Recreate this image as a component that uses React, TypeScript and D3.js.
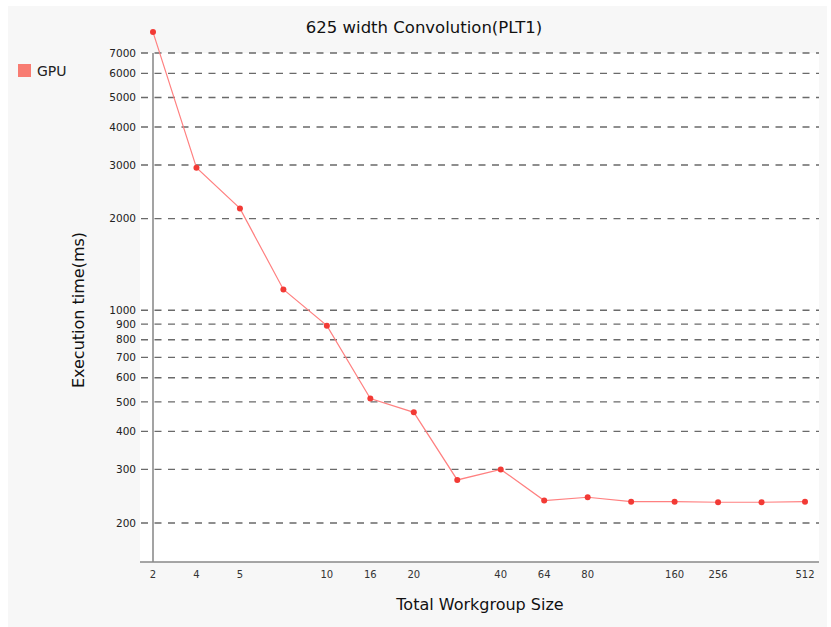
import React from "react";
import * as d3 from "d3";

const xLabels = ["2", "4", "5", "", "10", "16", "20", "", "40", "64", "80", "", "160", "256", "", "512"];
const gpuTimes = [8200, 2940, 2160, 1170, 890, 513, 462, 277, 300, 237, 243, 235, 235, 234, 234, 235];
const yTicks = [200, 300, 400, 500, 600, 700, 800, 900, 1000, 2000, 3000, 4000, 5000, 6000, 7000];
const seriesName = "GPU";
const title = "625 width Convolution(PLT1)";
const xTitle = "Total Workgroup Size";
const yTitle = "Execution time(ms)";

export default function App() {
  const W = 831, H = 627;
  const plot = { left: 140, right: 819, top: 53, bottom: 562 };
  const x = d3.scalePoint<number>().domain(d3.range(xLabels.length)).range([153, 805]).padding(0);
  const y = d3.scaleLog().domain([200, 7000]).range([523, 53]);
  const line = d3.line<number>().x((_, i) => x(i)!).y((d) => y(d));
  const font = "DejaVu Sans, sans-serif";
  return (
    <svg width={W} height={H} style={{ position: "absolute", left: 0, top: 0 }} fontFamily={font}>
      <rect x={8} y={6} width={819} height={621} fill="#f7f7f7" />
      <rect x={plot.left} y={plot.top} width={plot.right - plot.left} height={plot.bottom - plot.top} fill="#ffffff" />
      <text x={424} y={33} textAnchor="middle" fontSize={16.5} fill="#111">{title}</text>
      {yTicks.map((t) => (
        <g key={t}>
          <line x1={141} x2={plot.right} y1={y(t)} y2={y(t)} stroke="#6a6a6a" strokeWidth={1.4} strokeDasharray="7,6.5" />
          <text x={136} y={y(t)} dy="0.35em" textAnchor="end" fontSize={10.5} fill="#222">{t}</text>
        </g>
      ))}
      <line x1={153} x2={153} y1={plot.top} y2={plot.bottom} stroke="#666" strokeWidth={1.2} />
      <line x1={plot.left} x2={plot.right} y1={plot.bottom} y2={plot.bottom} stroke="#888" strokeWidth={1.5} />
      {xLabels.map((l, i) => (
        <text key={i} x={x(i)!} y={578} textAnchor="middle" fontSize={10} fill="#333">{l}</text>
      ))}
      <path d={line(gpuTimes) || ""} fill="none" stroke="#ff8080" strokeWidth={1.2} />
      {gpuTimes.map((v, i) => (
        <circle key={i} cx={x(i)!} cy={y(v)} r={3} fill="#f23a35" />
      ))}
      <text x={480} y={610} textAnchor="middle" fontSize={16} fill="#111">{xTitle}</text>
      <text transform={`translate(84,${310}) rotate(-90)`} textAnchor="middle" fontSize={16} fill="#111">{yTitle}</text>
      <rect x={18} y={64} width={13} height={13} fill="#f87c72" />
      <text x={37} y={71} dy="0.35em" fontSize={14} fill="#222">{seriesName}</text>
    </svg>
  );
}
